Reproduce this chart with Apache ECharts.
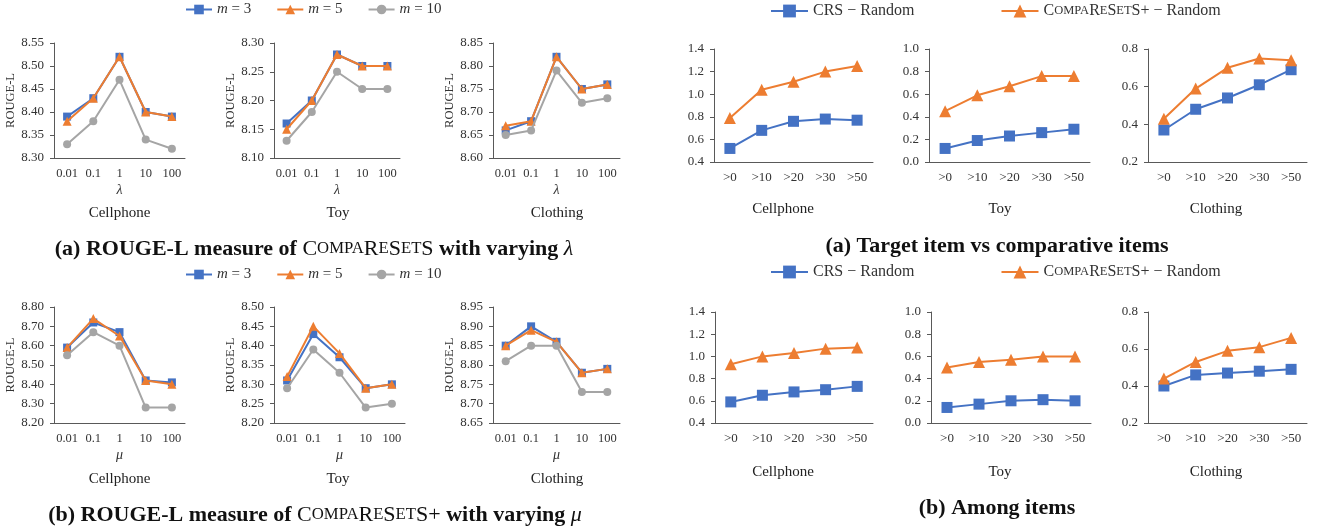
<!DOCTYPE html>
<html>
<head>
<meta charset="utf-8">
<script src="https://cdn.jsdelivr.net/npm/echarts@6/dist/echarts.min.js"></script>
<style>html,body{margin:0;padding:0;background:#fff;}#c{width:1317px;height:531px;}</style>
</head>
<body>
<div id="c"></div>
<script>
// ---------- DATA ----------
const paramCats = ['0.01', '0.1', '1', '10', '100'];
const thrCats = ['>0', '>10', '>20', '>30', '>50'];
const mNames = ['m = 3', 'm = 5', 'm = 10'];
const diffNames = ['CRS − Random', 'CompaReSetS+ − Random'];
const datasets = ['Cellphone', 'Toy', 'Clothing'];

// (a) varying lambda
const lamCell_m3 = [8.39, 8.43, 8.52, 8.40, 8.39];
const lamCell_m5 = [8.38, 8.43, 8.52, 8.40, 8.39];
const lamCell_m10 = [8.33, 8.38, 8.47, 8.34, 8.32];
const lamToy_m3 = [8.16, 8.20, 8.28, 8.26, 8.26];
const lamToy_m5 = [8.15, 8.20, 8.28, 8.26, 8.26];
const lamToy_m10 = [8.13, 8.18, 8.25, 8.22, 8.22];
const lamCloth_m3 = [8.66, 8.68, 8.82, 8.75, 8.76];
const lamCloth_m5 = [8.67, 8.68, 8.82, 8.75, 8.76];
const lamCloth_m10 = [8.65, 8.66, 8.79, 8.72, 8.73];
// (b) varying mu
const muCell_m3 = [8.59, 8.72, 8.67, 8.42, 8.41];
const muCell_m5 = [8.59, 8.74, 8.65, 8.42, 8.40];
const muCell_m10 = [8.55, 8.67, 8.60, 8.28, 8.28];
const muToy_m3 = [8.31, 8.43, 8.37, 8.29, 8.30];
const muToy_m5 = [8.32, 8.45, 8.38, 8.29, 8.30];
const muToy_m10 = [8.29, 8.39, 8.33, 8.24, 8.25];
const muCloth_m3 = [8.85, 8.90, 8.86, 8.78, 8.79];
const muCloth_m5 = [8.85, 8.89, 8.86, 8.78, 8.79];
const muCloth_m10 = [8.81, 8.85, 8.85, 8.73, 8.73];
// (a) target item vs comparative items
const tgtCell_crs = [0.52, 0.68, 0.76, 0.78, 0.77];
const tgtCell_cmp = [0.79, 1.04, 1.11, 1.20, 1.25];
const tgtToy_crs = [0.12, 0.19, 0.23, 0.26, 0.29];
const tgtToy_cmp = [0.45, 0.59, 0.67, 0.76, 0.76];
const tgtCloth_crs = [0.37, 0.48, 0.54, 0.61, 0.69];
const tgtCloth_cmp = [0.43, 0.59, 0.70, 0.75, 0.74];
// (b) among items
const amgCell_crs = [0.59, 0.65, 0.68, 0.70, 0.73];
const amgCell_cmp = [0.93, 1.00, 1.03, 1.07, 1.08];
const amgToy_crs = [0.14, 0.17, 0.20, 0.21, 0.20];
const amgToy_cmp = [0.50, 0.55, 0.57, 0.60, 0.60];
const amgCloth_crs = [0.40, 0.46, 0.47, 0.48, 0.49];
const amgCloth_cmp = [0.44, 0.53, 0.59, 0.61, 0.66];

// y-axis ranges [min, max, interval]
const yRanges = [
  [8.30, 8.55, 0.05], [8.10, 8.30, 0.05], [8.60, 8.85, 0.05],
  [8.20, 8.80, 0.10], [8.20, 8.50, 0.05], [8.65, 8.95, 0.05],
  [0.4, 1.4, 0.2], [0.0, 1.0, 0.2], [0.2, 0.8, 0.2],
  [0.4, 1.4, 0.2], [0.0, 1.0, 0.2], [0.2, 0.8, 0.2]
];

// ---------- LAYOUT ----------
const FONT = 'Liberation Serif';
const BLUE = '#4472C4', ORANGE = '#ED7D31', GRAY = '#A5A5A5';
const gridBoxes = [
  [54, 43, 131, 115], [274, 43, 126, 115], [493, 43, 127, 115],
  [54, 307, 131, 116], [274, 307, 131, 116], [493, 307, 127, 116],
  [714, 49, 159, 113], [929, 49, 161, 113], [1148, 49, 159, 113],
  [715, 312, 158, 111], [931, 312, 160, 111], [1148, 312, 159, 111]
];

const grid = gridBoxes.map(b => ({left: b[0], top: b[1], width: b[2], height: b[3], containLabel: false, outerBoundsMode: 'none'}));

const axisLineStyle = {show: true, lineStyle: {color: '#595959', width: 1}};
const xAxis = gridBoxes.map((b, i) => {
  const left = i < 6;
  return {
    type: 'category', gridIndex: i, data: left ? paramCats : thrCats, boundaryGap: true,
    axisLine: axisLineStyle, axisTick: {show: false},
    axisLabel: {color: '#333', fontFamily: FONT, fontSize: left ? 12.5 : 13, margin: 9, interval: 0},
    name: left ? (i < 3 ? 'λ' : 'μ') : '', nameLocation: 'middle', nameGap: 25,
    nameTextStyle: {fontFamily: FONT, fontStyle: 'italic', fontSize: 14, color: '#333'}
  };
});
const yAxis = gridBoxes.map((b, i) => {
  const left = i < 6;
  const r = yRanges[i];
  return {
    type: 'value', gridIndex: i, min: r[0], max: r[1], interval: r[2],
    axisLine: axisLineStyle, axisTick: {show: true, length: 4, lineStyle: {color: '#595959'}},
    splitLine: {show: false},
    axisLabel: {color: '#333', fontFamily: FONT, fontSize: 13, margin: 10,
      formatter: v => v.toFixed(left ? 2 : 1)},
    name: left ? 'ROUGE-L' : '', nameLocation: 'middle', nameGap: 33,
    nameTextStyle: {fontFamily: FONT, fontSize: 12.5, color: '#333'}
  };
});

const mData = [
  [lamCell_m3, lamCell_m5, lamCell_m10], [lamToy_m3, lamToy_m5, lamToy_m10], [lamCloth_m3, lamCloth_m5, lamCloth_m10],
  [muCell_m3, muCell_m5, muCell_m10], [muToy_m3, muToy_m5, muToy_m10], [muCloth_m3, muCloth_m5, muCloth_m10]
];
const dData = [
  [tgtCell_crs, tgtCell_cmp], [tgtToy_crs, tgtToy_cmp], [tgtCloth_crs, tgtCloth_cmp],
  [amgCell_crs, amgCell_cmp], [amgToy_crs, amgToy_cmp], [amgCloth_crs, amgCloth_cmp]
];

const series = [];
const mStyle = [
  {color: BLUE, symbol: 'rect', size: 8},
  {color: ORANGE, symbol: 'triangle', size: 9},
  {color: GRAY, symbol: 'circle', size: 8}
];
mData.forEach((arrs, gi) => {
  arrs.forEach((arr, k) => {
    series.push({
      type: 'line', name: mNames[k], xAxisIndex: gi, yAxisIndex: gi, data: arr,
      symbol: mStyle[k].symbol, symbolSize: mStyle[k].size, showAllSymbol: true,
      lineStyle: {color: mStyle[k].color, width: 2},
      itemStyle: {color: mStyle[k].color},
      emphasis: {disabled: true}, animation: false, z: 2 + k
    });
  });
});
const dStyle = [
  {color: BLUE, symbol: 'rect', size: 11},
  {color: ORANGE, symbol: 'triangle', size: 12}
];
dData.forEach((arrs, j) => {
  const gi = 6 + j;
  arrs.forEach((arr, k) => {
    series.push({
      type: 'line', name: diffNames[k], xAxisIndex: gi, yAxisIndex: gi, data: arr,
      symbol: dStyle[k].symbol, symbolSize: dStyle[k].size, showAllSymbol: true,
      lineStyle: {color: dStyle[k].color, width: 2},
      itemStyle: {color: dStyle[k].color},
      emphasis: {disabled: true}, animation: false, z: 2 + k
    });
  });
});

const mLegendFmt = n => n.replace('m', '{i|m}');
const dLegendFmt = n => n.indexOf('CompaReSetS') === 0
  ? '{c|C}{s|OMPA}{c|R}{s|E}{c|S}{s|ET}{c|S}{c|+ − Random}' : n;
const mLegend = top => ({
  top: top, left: 185, padding: 0, itemWidth: 26, itemHeight: 12, itemGap: 25, data: mNames,
  formatter: mLegendFmt, selectedMode: false,
  textStyle: {fontFamily: FONT, fontSize: 15, color: '#333', rich: {i: {fontFamily: FONT, fontStyle: 'italic', fontSize: 15, color: '#333'}}}
});
const dLegend = top => ({
  top: top, left: 770, padding: 0, itemWidth: 37, itemHeight: 16, itemGap: 86, data: diffNames,
  formatter: dLegendFmt, selectedMode: false,
  textStyle: {fontFamily: FONT, fontSize: 16, color: '#333', rich: {
    c: {fontFamily: FONT, fontSize: 16, color: '#333'},
    s: {fontFamily: FONT, fontSize: 12.5, color: '#333'}}}
});

// text labels
const txt = (x, y, text, size, rich) => ({
  type: 'text', x: x, y: y, silent: true,
  style: {text: text, fontFamily: FONT, fontSize: size, fill: '#222', align: 'center', verticalAlign: 'middle', rich: rich || {}}
});
const CAP = 22;
const capRich = {
  b: {fontFamily: FONT, fontSize: CAP, fontWeight: 'bold', fill: '#111'},
  c: {fontFamily: FONT, fontSize: CAP, fill: '#111'},
  s: {fontFamily: FONT, fontSize: CAP * 0.76, fill: '#111'},
  i: {fontFamily: FONT, fontSize: CAP, fontStyle: 'italic', fill: '#111'}
};
const dsPosLeft = [119.5, 338, 557];
const dsPosRight = [783, 1000, 1216];
const graphics = [];
datasets.forEach((d, k) => {
  graphics.push(txt(dsPosLeft[k], 213, d, 15));
  graphics.push(txt(dsPosLeft[k], 479, d, 15));
  graphics.push(txt(dsPosRight[k], 209, d, 15));
  graphics.push(txt(dsPosRight[k], 472, d, 15));
});
graphics.push(txt(314, 249, '{b|(a) ROUGE-L measure of }{c|C}{s|OMPA}{c|R}{s|E}{c|S}{s|ET}{c|S}{b| with varying }{i|λ}', CAP, capRich));
graphics.push(txt(315, 515, '{b|(b) ROUGE-L measure of }{c|C}{s|OMPA}{c|R}{s|E}{c|S}{s|ET}{c|S}{c|+}{b| with varying }{i|μ}', CAP, capRich));
graphics.push(txt(997, 246, '{b|(a) Target item vs comparative items}', CAP, capRich));
graphics.push(txt(997, 508, '{b|(b) Among items}', CAP, capRich));

const chart = echarts.init(document.getElementById('c'), null, {renderer: 'canvas'});
chart.setOption({
  backgroundColor: '#fff',
  animation: false,
  grid: grid, xAxis: xAxis, yAxis: yAxis, series: series,
  legend: [mLegend(2), mLegend(267), dLegend(3), dLegend(264)],
  graphic: graphics
});
</script>
</body>
</html>
